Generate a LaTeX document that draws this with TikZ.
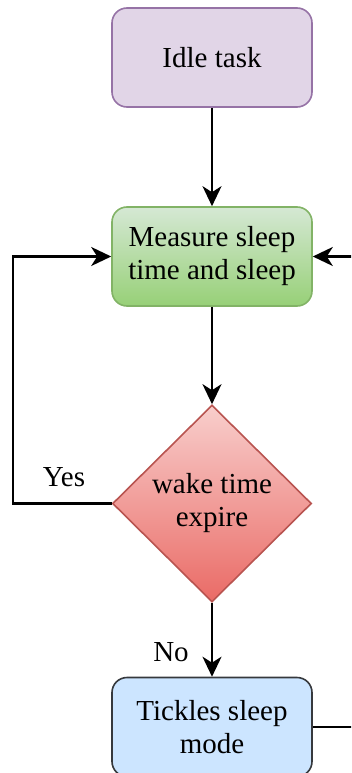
\documentclass[tikz,border=0pt]{standalone}
\usepackage{fontspec}
\setmainfont{Liberation Serif}
\usetikzlibrary{shapes.geometric,arrows.meta}
\definecolor{purpfill}{HTML}{E1D5E7}
\definecolor{purpline}{HTML}{9673A6}
\definecolor{greentop}{HTML}{D5E8D4}
\definecolor{greenbot}{HTML}{97D077}
\definecolor{greenline}{HTML}{82B366}
\definecolor{redtop}{HTML}{F8CECC}
\definecolor{redbot}{HTML}{EA6B66}
\definecolor{redline}{HTML}{B85450}
\definecolor{bluefill}{HTML}{CCE5FF}
\definecolor{blueline}{HTML}{36393D}
\tikzset{
  txt/.style={font=\fontsize{29}{33}\selectfont, align=center, text=black},
  boxnode/.style={txt, rectangle, rounded corners=15pt, minimum width=200pt, minimum height=99pt, inner sep=0pt, line width=1.6pt},
  decnode/.style={txt, diamond, aspect=1, minimum width=199pt, minimum height=197pt, inner sep=0pt, line width=1.6pt},
  conn/.style={line width=2.4pt, draw=black},
  arr/.style={conn, -{Stealth[length=20pt,width=19pt,inset=6pt]}},
  lbl/.style={font=\fontsize{29}{33}\selectfont, text=black, inner sep=0pt}
}
\begin{document}
\begin{tikzpicture}[x=1pt,y=-1pt]
\useasboundingbox (0,0) rectangle (351,773);
\clip (0,0) rectangle (351,773);
\node[boxnode, fill=purpfill, draw=purpline] (idle) at (212,57.5) {Idle task};
\node[boxnode, top color=greentop, bottom color=greenbot, draw=greenline] (meas) at (212,256.5) {Measure sleep\\time and sleep};
\node[decnode, top color=redtop, bottom color=redbot, draw=redline] (dia) at (212,503.5) {wake time\\expire};
\node[boxnode, fill=bluefill, draw=blueline] (tick) at (212,727) {Tickles sleep\\mode};
\node[lbl] (yes) at (64,477) {Yes};
\node[lbl] (no) at (171,652) {No};
\coordinate (lc) at (13,503.5);
\coordinate (ro) at (365,727);
\coordinate (ri) at (365,256.5);
\draw[arr] (idle) -- (meas);
\draw[arr] (meas) -- (dia);
\draw[arr] (dia) -- (tick);
\draw[arr] (dia.west) -- (lc) |- (meas.west);
\draw[conn] (tick.east) -- (ro);
\draw[arr] (ri) -- (meas.east);
\end{tikzpicture}
\end{document}
